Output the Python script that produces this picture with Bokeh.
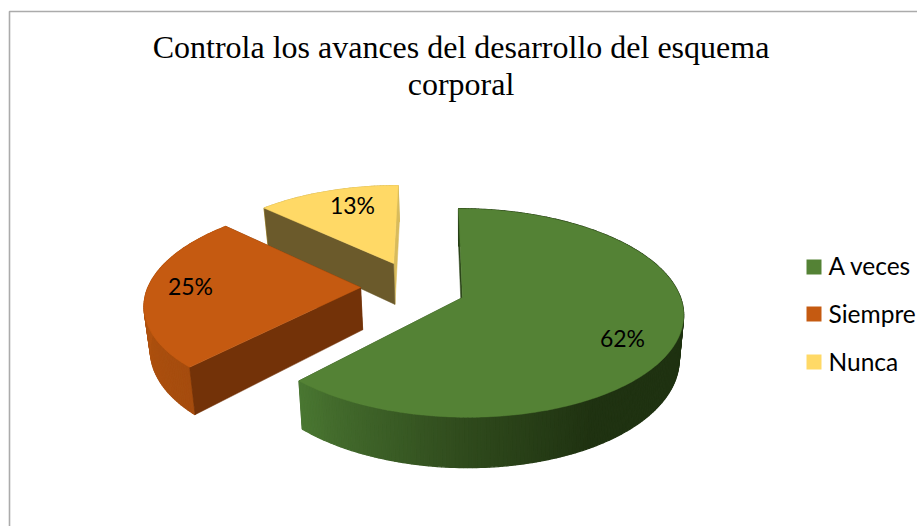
import numpy as np
from bokeh.plotting import figure
from bokeh.models import Range1d
from bokeh.core.properties import value
from bokeh.embed import file_html
from bokeh.resources import INLINE

title_lines = ["Controla los avances del desarrollo del esquema", "corporal"]
categories = ["A veces", "Siempre", "Nunca"]
percents = [62, 25, 13]
labels = ["62%", "25%", "13%"]
top_colors = ["#548235", "#C55A11", "#FFD966"]
wall_colors = ["#2b4419", "#733208", "#6B5A2B"]

# view model of the 3-D pie, in page pixels
CX, CY, A, B, K, SHEAR, DEPTH, SHRINK = 462, 297, 218, 102, 0.148, 0.045, 43, 0.98
# exploded offsets of each slice and slice radius, in pie radii
offsets = [(0.0, 0.0), (-0.472, 0.10), (-0.325, 0.35)]
radii = [1.0, 0.99, 0.96]
label_xy = [(622, 337.5), (190, 285), (352, 204)]


def proj(x, y, low=False):
    x = np.asarray(x, float)
    y = np.asarray(y, float)
    w = 1 + K * y
    sx = A * x / w
    sy = B * y / w
    px = sx - SHEAR * sy
    if low:
        return CX + SHRINK * px, CY - sy + DEPTH / w
    return CX + px, CY - sy


def lerp_color(stops, t):
    ts = [s[0] for s in stops]
    rgb = [np.interp(t, ts, [int(s[1][i:i + 2], 16) for s in stops]) for i in (1, 3, 5)]
    return "#%02x%02x%02x" % tuple(int(round(c)) for c in rgb)


side_stops = [
    [(0, "#1f3211"), (150, "#1f3211"), (180, "#2f4a1c"), (223.2, "#4a7732")],
    [(223, "#a54c0e"), (280, "#b4540f"), (314, "#b4540f")],
    [(313, "#d8bb5c"), (360, "#d8bb5c")],
]

p = figure(width=917, height=526, x_range=Range1d(0, 917), y_range=Range1d(526, 0),
           toolbar_location=None, output_backend="svg", min_border=0,
           outline_line_color=None, background_fill_color="white")
p.axis.visible = False
p.grid.visible = False

# chart frame
p.line([9, 9, 917], [526, 11, 11], line_color="#ababab", line_width=1.6)

fractions = np.array(percents) / sum(percents)
ends = np.cumsum(fractions) * 360
starts = ends - fractions * 360


def draw_wall(i, ang, col):
    ox, oy = offsets[i]
    r = radii[i]
    ex, ey = ox + r * np.sin(np.radians(ang)), oy + r * np.cos(np.radians(ang))
    wx, wy = proj([ox, ex], [oy, ey])
    vx, vy = proj([ox, ex], [oy, ey], low=True)
    p.patch(list(wx) + list(vx[::-1]), list(wy) + list(vy[::-1]),
            fill_color=col, line_color=col, line_width=0.5)


for i in [2, 1, 0]:
    ox, oy = offsets[i]
    r = radii[i]
    a0, a1 = starts[i], ends[i]
    th = np.radians(np.arange(a0, a1, 1.0))
    th = np.append(th, np.radians(a1))
    X, Y = ox + r * np.sin(th), oy + r * np.cos(th)
    # wall at the end of the slice, behind the curved side
    draw_wall(i, a1, "#d8bb5c" if i == 2 else wall_colors[i])
    # outer curved side, in strips
    tx, ty = proj(X, Y)
    bx, by = proj(X, Y, low=True)
    px, py, cols = [], [], []
    for j in range(len(th) - 1):
        px.append([tx[j], tx[j + 1], bx[j + 1], bx[j]])
        py.append([ty[j], ty[j + 1], by[j + 1], by[j]])
        cols.append(lerp_color(side_stops[i], np.degrees(th[j])))
    p.patches(px, py, fill_color=cols, line_color=cols, line_width=1.2)
    # wall at the start of the slice
    draw_wall(i, a0, wall_colors[i])
    # top face
    fx, fy = proj(np.append(X, ox), np.append(Y, oy))
    p.patch(list(fx), list(fy), fill_color=top_colors[i], line_color=top_colors[i], line_width=0.5)

FONT = value("Lato")
p.text([lx for lx, _ in label_xy], [ly for _, ly in label_xy], text=labels, text_font=FONT,
       text_font_size="23px", text_color="#000000", text_align="center", text_baseline="middle")

p.text([460.5, 460.5], [46, 83], text=title_lines, text_font=value("Liberation Serif"),
       text_font_size="32px", text_color="#000000", text_align="center", text_baseline="middle")

swatch_y = [266.5, 313.5, 361.5]
text_y = [264.5, 312.5, 360.5]
p.rect([813.5] * 3, swatch_y, width=15, height=15, fill_color=top_colors, line_color=None)
p.text([828] * 3, text_y, text=categories, text_font=FONT, text_font_size="24.5px",
       text_color="#000000", text_align="left", text_baseline="middle")

open("out.html", "w").write(file_html(p, INLINE))
